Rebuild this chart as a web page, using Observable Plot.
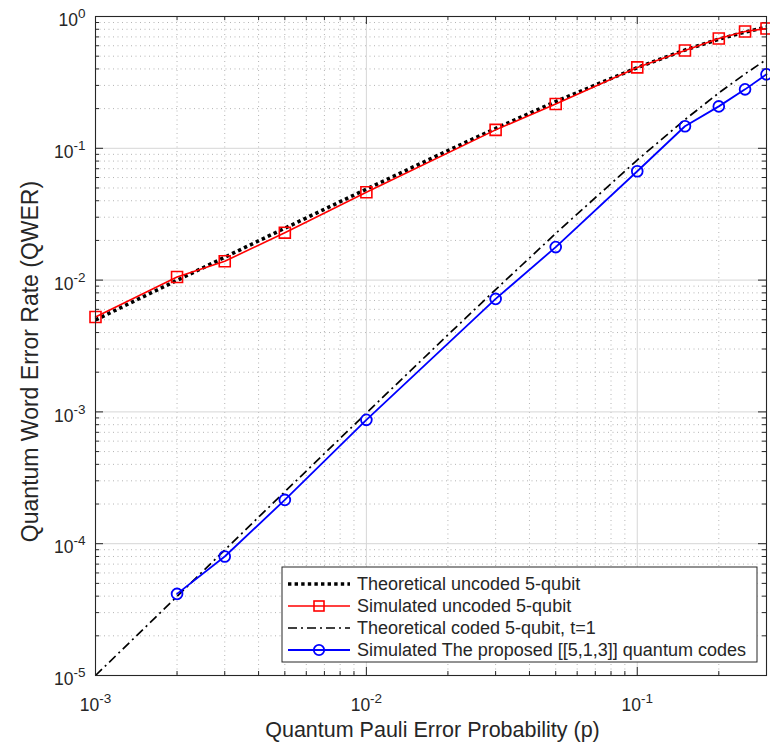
<!DOCTYPE html>
<html>
<head>
<meta charset="utf-8">
<script src="https://cdn.jsdelivr.net/npm/d3@7"></script>
<script src="https://cdn.jsdelivr.net/npm/@observablehq/plot@0.6"></script>
<style>
  body { margin: 0; background: #fff; }
  #chart { position: relative; width: 770px; height: 743px; }
  #chart svg { display: block; }
</style>
</head>
<body>
<div id="chart"></div>
<script>
// ---- data ----
const pTheory = [0.001, 0.002, 0.003, 0.005, 0.01, 0.02, 0.03, 0.05, 0.1, 0.15, 0.2, 0.25, 0.3];
const theoryUncoded = [0.00499, 0.00996, 0.01491, 0.02475, 0.049, 0.0961, 0.1413, 0.2262, 0.4095, 0.5563, 0.6723, 0.7627, 0.8319];
const theoryCoded = [1.0e-5, 3.98e-5, 8.95e-5, 2.48e-4, 9.8e-4, 3.84e-3, 8.47e-3, 0.0226, 0.0815, 0.165, 0.263, 0.367, 0.472];

const pSimUncoded = [0.001, 0.002, 0.003, 0.005, 0.01, 0.03, 0.05, 0.1, 0.15, 0.2, 0.25, 0.3];
const simUncoded = [0.00525, 0.01055, 0.0139, 0.0229, 0.0464, 0.138, 0.217, 0.411, 0.552, 0.681, 0.77, 0.81];

const pSimCoded = [0.002, 0.003, 0.005, 0.01, 0.03, 0.05, 0.1, 0.15, 0.2, 0.25, 0.3];
const simCoded = [4.16e-5, 8.0e-5, 2.15e-4, 8.7e-4, 7.2e-3, 0.0178, 0.067, 0.147, 0.208, 0.28, 0.364];

const seriesNames = [
  "Theoretical uncoded 5-qubit",
  "Simulated uncoded 5-qubit",
  "Theoretical coded 5-qubit, t=1",
  "Simulated The proposed [[5,1,3]] quantum codes"
];

const xMajorTicks = [1e-3, 1e-2, 1e-1];
const xTickLabels = ["10^-3", "10^-2", "10^-1"];
const yMajorTicks = [1e-5, 1e-4, 1e-3, 1e-2, 1e-1, 1];
const yTickLabels = ["10^-5", "10^-4", "10^-3", "10^-2", "10^-1", "10^0"];
const xLabel = "Quantum Pauli Error Probability (p)";
const yLabel = "Quantum Word Error Rate (QWER)";
const xDomain = [1e-3, 0.3];
const yDomain = [1e-5, 1];

// ---- derived tables ----
const theoryUncodedData = pTheory.map((p, i) => ({p, v: theoryUncoded[i]}));
const theoryCodedData = pTheory.map((p, i) => ({p, v: theoryCoded[i]}));
const simUncodedData = pSimUncoded.map((p, i) => ({p, v: simUncoded[i]}));
const simCodedData = pSimCoded.map((p, i) => ({p, v: simCoded[i]}));

const minorOf = (majors, max) => majors.flatMap(m => [2,3,4,5,6,7,8,9].map(k => k * m))
  .filter(v => v <= max * (1 + 1e-9));
const xMinor = minorOf(xMajorTicks, xDomain[1]);
const yMinor = minorOf(yMajorTicks.slice(0, -1), yDomain[1]);

// ---- layout ----
const W = 770, H = 743;
const mL = 95, mR = 4, mT = 16, mB = 68;
const fw = W - mL - mR, fh = H - mT - mB;
const axisColor = "#262626";
const font = "'Liberation Sans', Arial, Helvetica, sans-serif";

const dotted = {stroke: "black", strokeWidth: 3.6, strokeDasharray: "3.4,3.2", strokeLinecap: "butt", strokeLinejoin: "miter"};
const dashDot = {stroke: "black", strokeWidth: 1.7, strokeDasharray: "9,4,2,4", strokeLinecap: "butt"};

const chart = Plot.plot({
  width: W, height: H,
  marginLeft: mL, marginRight: mR, marginTop: mT, marginBottom: mB,
  style: {fontFamily: font, fontSize: "17px", color: axisColor, background: "#fff"},
  x: {type: "log", domain: xDomain},
  y: {type: "log", domain: yDomain},
  marks: [
    // minor grid (dotted)
    Plot.ruleX(xMinor, {stroke: "#b4b4b4", strokeDasharray: "1,3.5", strokeWidth: 1}),
    Plot.ruleY(yMinor, {stroke: "#b4b4b4", strokeDasharray: "1,3.5", strokeWidth: 1}),
    // major grid (solid light)
    Plot.ruleX(xMajorTicks, {stroke: "#d6d6d6", strokeWidth: 1}),
    Plot.ruleY(yMajorTicks, {stroke: "#d6d6d6", strokeWidth: 1}),
    // inward ticks on all four sides
    Plot.ruleX(xMajorTicks, {insetTop: fh - 8, stroke: axisColor}),
    Plot.ruleX(xMajorTicks, {insetBottom: fh - 8, stroke: axisColor}),
    Plot.ruleX(xMinor, {insetTop: fh - 4, stroke: axisColor}),
    Plot.ruleX(xMinor, {insetBottom: fh - 4, stroke: axisColor}),
    Plot.ruleY(yMajorTicks, {insetRight: fw - 8, stroke: axisColor}),
    Plot.ruleY(yMajorTicks, {insetLeft: fw - 8, stroke: axisColor}),
    Plot.ruleY(yMinor, {insetRight: fw - 4, stroke: axisColor}),
    Plot.ruleY(yMinor, {insetLeft: fw - 4, stroke: axisColor}),
    // series
    Plot.line(theoryCodedData, {x: "p", y: "v", ...dashDot}),
    Plot.line(theoryUncodedData, {x: "p", y: "v", ...dotted}),
    Plot.line(simUncodedData, {x: "p", y: "v", stroke: "#ff0000", strokeWidth: 1.6}),
    Plot.dot(simUncodedData, {x: "p", y: "v", symbol: "square", r: 6.2, stroke: "#ff0000", fill: "none", strokeWidth: 1.6}),
    Plot.line(simCodedData, {x: "p", y: "v", stroke: "#0000ff", strokeWidth: 1.8}),
    Plot.dot(simCodedData, {x: "p", y: "v", symbol: "circle", r: 5.4, stroke: "#0000ff", fill: "none", strokeWidth: 1.8}),
    // frame
    Plot.frame({stroke: axisColor, strokeWidth: 1.1}),
    // axes
    Plot.axisX(xMajorTicks, {tickFormat: d => xTickLabels[xMajorTicks.indexOf(d)], tickSize: 0, tickPadding: 23, label: null}),
    Plot.axisY(yMajorTicks, {tickFormat: d => yTickLabels[yMajorTicks.indexOf(d)], tickSize: 0, tickPadding: 10, label: null, dy: 4})
  ]
});

document.getElementById("chart").appendChild(chart);

// superscript exponents in tick labels
chart.querySelectorAll("text").forEach(t => {
  const m = /^10\^(.+)$/.exec(t.textContent);
  if (m) {
    t.textContent = "10";
    t.style.fontSize = "17.5px";
    t.setAttribute("fill", axisColor);
    const s = document.createElementNS("http://www.w3.org/2000/svg", "tspan");
    s.setAttribute("dy", "-8");
    s.style.fontSize = "13.5px";
    s.textContent = m[1];
    t.appendChild(s);
  }
});

const svg = d3.select(chart);

// axis labels
svg.append("text")
  .attr("x", mL + fw / 2 + 2).attr("y", H - 6)
  .attr("text-anchor", "middle").attr("font-family", font)
  .style("font-size", "21.5px")
  .attr("fill", axisColor).text(xLabel);
svg.append("text")
  .attr("transform", `translate(38, ${mT + fh / 2 + 16}) rotate(-90)`)
  .attr("text-anchor", "middle").attr("font-family", font)
  .style("font-size", "23px")
  .attr("fill", axisColor).text(yLabel);

// legend
const lg = svg.append("g").attr("font-family", font).attr("text-anchor", "start")
  .style("font-size", "18px").attr("fill", axisColor);
lg.append("rect").attr("x", 282).attr("y", 567).attr("width", 475).attr("height", 95)
  .attr("fill", "#fff").attr("stroke", axisColor).attr("stroke-width", 1);
const styles = [
  {stroke: "black", w: 3.6, dash: "3.4,3.2", marker: null},
  {stroke: "#ff0000", w: 1.6, dash: null, marker: "square"},
  {stroke: "black", w: 1.7, dash: "9,4,2,4", marker: null},
  {stroke: "#0000ff", w: 1.8, dash: null, marker: "circle"}
];
seriesNames.forEach((name, i) => {
  const cy = 584 + i * 22;
  const st = styles[i];
  const ln = lg.append("line").attr("x1", 288).attr("x2", 350).attr("y1", cy).attr("y2", cy)
    .attr("stroke", st.stroke).attr("stroke-width", st.w).attr("stroke-linecap", "butt");
  if (st.dash) ln.attr("stroke-dasharray", st.dash);
  if (st.marker === "square") {
    lg.append("rect").attr("x", 319 - 5).attr("y", cy - 5).attr("width", 10).attr("height", 10)
      .attr("fill", "none").attr("stroke", st.stroke).attr("stroke-width", 1.6);
  } else if (st.marker === "circle") {
    lg.append("circle").attr("cx", 319).attr("cy", cy).attr("r", 5.2)
      .attr("fill", "none").attr("stroke", st.stroke).attr("stroke-width", 1.8);
  }
  lg.append("text").attr("x", 357).attr("y", cy).attr("dy", "0.35em")
    .attr("text-anchor", "start").text(name);
});
</script>
</body>
</html>
